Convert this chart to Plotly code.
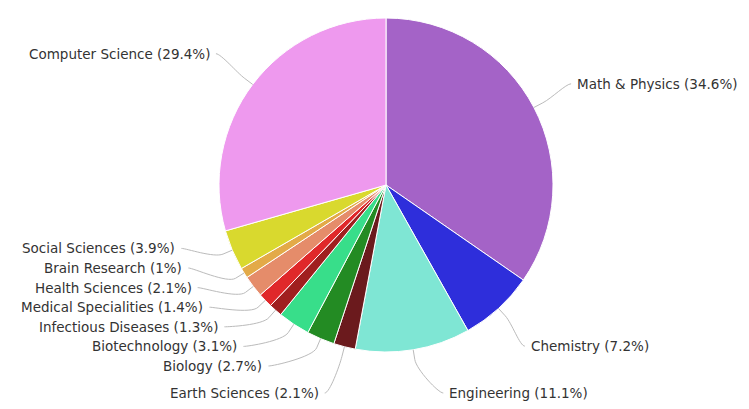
import math
import plotly.graph_objects as go

# ---- data ----
categories = ["Math & Physics", "Chemistry", "Engineering", "Earth Sciences", "Biology",
              "Biotechnology", "Infectious Diseases", "Medical Specialities", "Health Sciences",
              "Brain Research", "Social Sciences", "Computer Science"]
shares = [34.6, 7.2, 11.1, 2.1, 2.7, 3.1, 1.3, 1.4, 2.1, 1.0, 3.9, 29.4]
colors = ["#a463c7", "#2e2edb", "#7fe6d4", "#6b1a1d", "#238b23", "#38de8a",
          "#a01f1f", "#e0282a", "#e58c6a", "#e3aa48", "#d9d92e", "#ee99ee"]

# ---- layout geometry (window pixels) ----
WIN_W, WIN_H = 749, 409
OFF = 8                      # page body margin
W, H = WIN_W - 2 * OFF, WIN_H - 2 * OFF
CX, CY, R = 386, 185, 167
LABEL_R = 218
BOTTOM = 393
SPACING = 19.6
BOTTOM_GAP = 27
RIGHT_PULL = 4
FONT = dict(family="DejaVu Sans", size=13.5, color="#333333")

def px(x):
    return (x - OFF) / W

def py(y):
    return 1 - (y - OFF) / H

fig = go.Figure()
fig.add_trace(go.Pie(
    labels=categories, values=shares, sort=False, direction="clockwise", rotation=0,
    marker=dict(colors=colors, line=dict(color="white", width=1)),
    textinfo="none", hoverinfo="label+percent", showlegend=False,
    domain=dict(x=[px(CX - R), px(CX + R)], y=[py(CY + R), py(CY - R)]),
))

# slice mid angles from the data
total = sum(shares)
angles = []
cum = 0.0
for v in shares:
    angles.append((cum + v / 2) / total * 2 * math.pi)
    cum += v

def pt(theta, rho):
    return CX + rho * math.sin(theta), CY - rho * math.cos(theta)

labels = []
for i, (name, v, th) in enumerate(zip(categories, shares, angles)):
    nx, ny = pt(th, LABEL_R)
    side = "right" if th <= math.pi else "left"
    labels.append(dict(i=i, text=f"{name} ({v:g}%)", th=th, y=min(ny, BOTTOM), side=side))

# resolve overlaps on each side (push upward from bottom)
for side in ("left", "right"):
    grp = sorted([l for l in labels if l["side"] == side], key=lambda l: l["y"])
    for k in range(len(grp) - 2, -1, -1):
        gap = BOTTOM_GAP if k == len(grp) - 2 and grp[k + 1]["y"] >= BOTTOM else SPACING
        grp[k]["y"] = min(grp[k]["y"], grp[k + 1]["y"] - gap)

annotations = []
shapes = []
for l in labels:
    dy = l["y"] - CY
    dx = math.sqrt(max(LABEL_R ** 2 - dy ** 2, 0))
    sgn = 1 if l["side"] == "right" else -1
    lx = CX + sgn * dx - (RIGHT_PULL if sgn > 0 else 0)
    annotations.append(dict(
        x=px(lx), y=py(l["y"]), xref="paper", yref="paper", text=l["text"],
        showarrow=False, xanchor="left" if sgn > 0 else "right", yanchor="middle",
        font=FONT,
    ))
    sx = lx - sgn * 4
    sy = l["y"]
    tx, ty = pt(l["th"], R)
    bx, by = pt(l["th"], R + 10)
    c2x, c2y = 2 * bx - tx, 2 * by - ty
    c1x = sx - sgn * 5
    path = (f"M{px(sx):.5f},{py(sy):.5f} C{px(c1x):.5f},{py(sy):.5f} "
            f"{px(c2x):.5f},{py(c2y):.5f} {px(bx):.5f},{py(by):.5f} L{px(tx):.5f},{py(ty):.5f}")
    shapes.append(dict(type="path", xref="paper", yref="paper", path=path,
                       line=dict(color="#bbbbbb", width=1)))

fig.update_layout(
    width=W, height=H, autosize=False,
    margin=dict(l=0, r=0, t=0, b=0),
    paper_bgcolor="white", plot_bgcolor="white",
    annotations=annotations, shapes=shapes,
)

fig.write_html("out.html")
